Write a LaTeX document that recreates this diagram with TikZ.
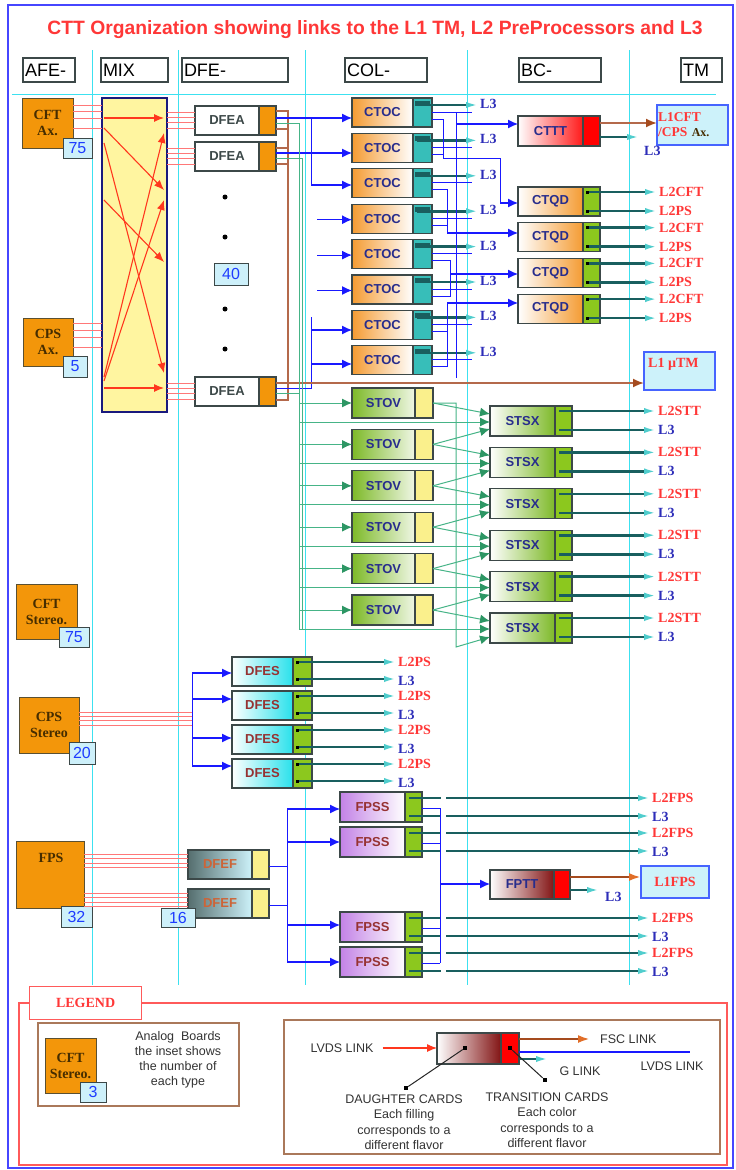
\documentclass[tikz,border=0pt]{standalone}
\usepackage{fontspec}
\setmainfont{Liberation Serif}
\setsansfont{Liberation Sans}
\usetikzlibrary{arrows.meta,calc}
\definecolor{cyanline}{RGB}{60,225,240}
\definecolor{frameblue}{RGB}{70,70,255}
\definecolor{boardorange}{RGB}{243,150,10}
\definecolor{boardtext}{RGB}{70,45,0}
\definecolor{boardline}{RGB}{90,80,50}
\definecolor{insetfill}{RGB}{205,240,250}
\definecolor{insettext}{RGB}{30,60,255}
\definecolor{cardborder}{RGB}{60,72,72}
\definecolor{navytext}{RGB}{40,45,140}
\definecolor{ctocorange}{RGB}{244,155,50}
\definecolor{tealpart}{RGB}{55,190,185}
\definecolor{partgreen}{RGB}{140,200,30}
\definecolor{partyellow}{RGB}{250,240,140}
\definecolor{stovgreen}{RGB}{125,185,40}
\definecolor{linegreen}{RGB}{70,180,135}
\definecolor{arrowgreen}{RGB}{45,150,100}
\definecolor{linkblue}{RGB}{25,25,255}
\definecolor{brownline}{RGB}{180,105,75}
\definecolor{brownhead}{RGB}{165,75,30}
\definecolor{labred}{RGB}{255,55,55}
\definecolor{labblue}{RGB}{45,45,185}
\definecolor{tealdark}{RGB}{25,95,95}
\definecolor{tealhead}{RGB}{80,205,205}
\definecolor{pinkline}{RGB}{255,120,120}
\definecolor{redarrow}{RGB}{255,55,30}
\definecolor{mixfill}{RGB}{255,245,160}
\definecolor{mixborder}{RGB}{25,25,125}
\definecolor{lboxfill}{RGB}{205,242,250}
\definecolor{lboxline}{RGB}{70,100,255}
\definecolor{fesred}{RGB}{150,50,50}
\definecolor{fescyan}{RGB}{40,225,235}
\definecolor{fefbrown}{RGB}{205,100,55}
\definecolor{fefdark}{RGB}{85,110,110}
\definecolor{fpsviolet}{RGB}{195,130,230}
\definecolor{maroonc}{RGB}{130,20,20}
\definecolor{legbrown}{RGB}{170,120,90}
\definecolor{legred}{RGB}{255,90,90}
\definecolor{fscorange}{RGB}{225,110,40}

\newcommand\mkcard[9]{%
  \node[cardbody,#7,minimum width=#4pt,minimum height=#6pt,anchor=north west] (#1) at (#2,#3) {#9};
  \node[cardbody,#8,minimum width=#5pt,minimum height=#6pt,anchor=north west] (#1-p) at (#1.north east) {};
}

\begin{document}
\begin{tikzpicture}[x=1pt,y=-1pt,
  cardbody/.style={draw=cardborder,line width=1.1pt,inner sep=0pt,outer sep=0pt,
     font=\sffamily\bfseries\fontsize{13}{13}\selectfont,text=navytext},
  board/.style={draw=boardline,line width=1pt,fill=boardorange,inner sep=0pt,outer sep=0pt,anchor=north west,
     font=\rmfamily\bfseries\fontsize{14}{16}\selectfont,text=boardtext,align=center},
  inset/.style={draw=cardborder,line width=1pt,fill=insetfill,inner sep=0pt,outer sep=0pt,anchor=north west,
     font=\sffamily\fontsize{16}{16}\selectfont,text=insettext},
  hdr/.style={draw=cardborder,line width=1.3pt,fill=white,minimum height=24pt,inner xsep=2pt,inner ysep=0pt,
     outer sep=0pt,font=\sffamily\fontsize{18}{18}\selectfont,align=left},
  cyanln/.style={draw=cyanline,line width=0.9pt},
  pinkln/.style={draw=pinkline,line width=0.6pt},
  redarr/.style={draw=redarrow,line width=1.1pt,-{Latex[length=10pt,width=8pt]}},
  blueln/.style={draw=linkblue,line width=1pt},
  bluearr/.style={draw=linkblue,line width=1.1pt,-{Latex[length=10pt,width=9pt]}},
  greenln/.style={draw=linegreen,line width=1pt},
  greenarr/.style={draw=linegreen,line width=1pt,-{Latex[length=10pt,width=9pt,color=arrowgreen]}},
  brownln/.style={draw=brownline,line width=1.4pt},
  brownarr/.style={draw=brownline,line width=1.8pt,-{Latex[length=11pt,width=9pt,color=brownhead]}},
  fscarr/.style={draw=brownhead,line width=2.4pt,-{Latex[length=12pt,width=8pt,color=fscorange]}},
  tealarr/.style={draw=tealdark,line width=2.6pt,-{Latex[length=14pt,width=6pt,color=tealhead]}},
  tealseg/.style={draw=tealdark,line width=2.8pt},
  redlab/.style={text=labred,font=\rmfamily\bfseries\fontsize{14}{14}\selectfont,anchor=west,inner sep=0pt},
  bluelab/.style={text=labblue,font=\rmfamily\bfseries\fontsize{14}{14}\selectfont,anchor=west,inner sep=0pt},
  legtxt/.style={font=\sffamily\fontsize{12.5}{15.5}\selectfont,text=black!80,align=center,inner sep=0pt},
  dotmark/.style={fill=black,inner sep=0pt,minimum size=4.5pt,outer sep=0pt},
  pin/.style={fill=black,inner sep=0pt,minimum size=3pt,outer sep=0pt},
  lbox/.style={draw=lboxline,line width=1.2pt,fill=lboxfill,anchor=north west,inner sep=0pt,outer sep=0pt},
]
\useasboundingbox (0,0) rectangle (736,1170);
\fill[white] (0,0) rectangle (736,1170);
\draw[frameblue,line width=1.6pt] (8,5) rectangle (733,1168);
\node[font=\sffamily\bfseries\fontsize{19.3}{19.3}\selectfont,text=labred] (title) at (375,30)
  {CTT Organization showing links to the L1 TM, L2 PreProcessors and L3};

% ---------- cyan grid
\foreach \x in {92,178,305,467,629} \draw[cyanln] (\x,50) -- (\x,985);
\draw[cyanln] (12,94) -- (716,94);

% ---------- header
\foreach \nm/\xa/\xb/\txt in {afe/23/75/AFE-, mix/101/168/MIX, dfe/182/288/DFE-, col/345/427/COL-, bc/519/601/BC-, tm/681/722/TM}{
  \pgfmathsetmacro\ww{\xb-\xa}
  \pgfmathsetmacro\tw{\xb-\xa-4}
  \node[hdr,minimum width=\ww pt,text width=\tw pt] (h\nm) at ({(\xa+\xb)/2},70) {\txt};
}

% ---------- analog boards
\node[board,minimum width=51pt,minimum height=50pt] (cftax) at (22,98) {CFT\\Ax.};
\node[inset,minimum width=29pt,minimum height=20pt] (cftaxn) at (63,138) {75};
\node[board,minimum width=50pt,minimum height=48pt] (cpsax) at (23,318) {CPS\\Ax.};
\node[inset,minimum width=24pt,minimum height=21pt] (cpsaxn) at (63,356) {5};
\node[board,minimum width=61pt,minimum height=55pt] (cftst) at (16,584) {CFT\\Stereo.};
\node[inset,minimum width=30pt,minimum height=20pt] (cftstn) at (59,627) {75};
\node[board,minimum width=60pt,minimum height=56pt] (cpsst) at (19,697) {CPS\\Stereo};
\node[inset,minimum width=26pt,minimum height=22pt] (cpsstn) at (69,742) {20};
\node[board,minimum width=68pt,minimum height=67pt] (fps) at (16,841) {};
\node[font=\rmfamily\bfseries\fontsize{14}{14}\selectfont,text=boardtext] (fpslab) at (51,858) {FPS};
\node[inset,minimum width=31pt,minimum height=21pt] (fpsn) at (61,906) {32};

% ---------- MIX
\node[draw=mixborder,line width=2.6pt,fill=mixfill,minimum width=65pt,minimum height=314pt,
      anchor=north west,inner sep=0pt,outer sep=0pt] (mix) at (102,98) {};
\foreach \y in {105,111,118,128} \draw[pinkln] (cftax.east |- 0,\y) -- (mix.west |- 0,\y);
\foreach \y in {323,330,337,347} \draw[pinkln] (cpsax.east |- 0,\y) -- (mix.west |- 0,\y);
\draw[redarr] (104,118) -- (164,118);
\draw[redarr] (104,128) -- (164,190);
\draw[redarr] (104,143) -- (164,373);
\draw[redarr] (104,200) -- (164,262);
\draw[redarr] (104,377) -- (164,133);
\draw[redarr] (104,381) -- (164,200);
\draw[redarr] (104,388) -- (164,388);

% ---------- DFEA
\mkcard{dfea1}{195}{106}{64}{17}{29}{fill=white,text=cardborder}{fill=boardorange}{DFEA}
\mkcard{dfea2}{195}{142}{64}{17}{29}{fill=white,text=cardborder}{fill=boardorange}{DFEA}
\mkcard{dfea3}{195}{377}{64}{17}{29}{fill=white,text=cardborder}{fill=boardorange}{DFEA}
\foreach \n in {1,2,3}{
  \foreach \d in {6,11,16,22} \draw[pinkln] ($(dfea\n.north west)+(-28,\d)$) -- ($(dfea\n.north west)+(0,\d)$);
}
\foreach \y [count=\k] in {197,237,309,349} \node[circle,fill=black,inner sep=0pt,minimum size=5pt] (dot\k) at (225,\y) {};
\node[inset,minimum width=34pt,minimum height=22pt] (n40) at (214,263) {40};

% ---------- CTOC
\foreach \i in {1,...,8}{
  \pgfmathsetmacro\t{98+35.4*(\i-1)}
  \mkcard{ctoc\i}{352}{\t}{61}{19}{29}{left color=ctocorange,right color=white}{fill=tealpart}{CTOC}
  \fill[tealdark] ($(ctoc\i-p.north west)+(2,3)$) rectangle ++(15,5);
  \node[bluelab] (c3l\i) at (480,\t+6) {L3};
  \draw[tealarr] ($(ctoc\i-p.north west)+(4,7)$) -- ($(c3l\i.west)+(0,1)$);
  \draw[blueln] ($(ctoc\i-p.north east)+(0,14)$) -- ($(c3l\i.west)+(-8,8)$);
}
\coordinate (cbusT) at (456,112);
\coordinate (cbusB) at (456,378);
\draw[blueln] (cbusT) -- (cbusB);

% ---------- CTTT, CTQD
\mkcard{cttt}{518}{116}{65}{17}{30}{left color=white,right color=red!90}{fill=red}{CTTT}
\draw[bluearr] (456,124) -- (cttt.west |- 0,124);
\node[lbox,minimum width=71pt,minimum height=40pt,text width=69pt,inner xsep=1pt,align=left,
      font=\rmfamily\bfseries\fontsize{13.5}{15}\selectfont] (l1cft) at (657,105)
      {\textcolor{labred}{L1CFT}\\\textcolor{labred}{/CPS} \textcolor{boardtext}{\fontsize{12}{12}\selectfont Ax.}};
\draw[brownarr] (cttt-p.east |- 0,123) -- (l1cft.west |- 0,123);
\node[bluelab] (cttl3) at (644,151) {L3};
\coordinate (ctte) at (641,137);
\draw[tealarr] (cttt-p.east |- 0,137) -- (ctte);

\foreach \i in {1,...,4}{
  \pgfmathsetmacro\t{187+35.7*(\i-1)}
  \mkcard{ctqd\i}{518}{\t}{65}{17}{29}{left color=white,right color=ctocorange}{fill=partgreen}{CTQD}
  \node[redlab] (qa\i) at (659,\t+5) {L2CFT};
  \node[redlab] (qb\i) at (659,\t+24) {L2PS};
  \draw[tealarr] ($(ctqd\i-p.north west)+(4,5)$) -- (qa\i.west);
  \draw[tealarr] ($(ctqd\i-p.north west)+(4,24)$) -- (qb\i.west);
  \node[pin] (qpa\i) at ($(ctqd\i-p.north west)+(4,5)$) {};
  \node[pin] (qpb\i) at ($(ctqd\i-p.north west)+(4,24)$) {};
}

% CTOC -> CTQD routing
\draw[blueln] (ctoc1-p.east |- 0,119) -- (443,119) -- (443,158) -- (500,158) -- (500,203);
\draw[blueln] (ctoc2-p.east |- 0,154.4) -- (443,154.4);
\draw[bluearr] (500,203) -- (ctqd1.west |- 0,203);
\draw[blueln] (ctoc3-p.east |- 0,189.8) -- (447,189.8) -- (447,233);
\draw[blueln] (ctoc4-p.east |- 0,225.2) -- (447,225.2);
\draw[bluearr] (447,233) -- (ctqd2.west |- 0,233);
\draw[blueln] (ctoc5-p.east |- 0,260.6) -- (450,260.6) -- (450,296) -- (ctoc6-p.east |- 0,296);
\draw[bluearr] (450,274) -- (ctqd3.west |- 0,274);
\draw[blueln] (ctoc7-p.east |- 0,331.4) -- (447,331.4);
\draw[blueln] (ctoc8-p.east |- 0,366.8) -- (447,366.8) -- (447,303);
\draw[bluearr] (447,303) -- (ctqd4.west |- 0,303);

% ---------- DFEA -> CTOC / bus lines
\draw[brownln] (dfea1-p.east |- 0,111) -- (288,111) -- (288,400) -- (dfea3-p.east |- 0,400);
\draw[brownln] (dfea1-p.east |- 0,129) -- (288,129);
\draw[brownln] (dfea2-p.east |- 0,148) -- (288,148);
\draw[brownln] (dfea2-p.east |- 0,164) -- (288,164);
\draw[bluearr] (dfea1-p.east |- 0,118) -- (ctoc1.west |- 0,118);
\draw[bluearr] (dfea2-p.east |- 0,153) -- (ctoc2.west |- 0,153);
\draw[blueln] (311,118) -- (311,185);
\draw[bluearr] (311,185) -- (ctoc3.west |- 0,185);
\foreach \i in {4,5,6} \draw[bluearr] ($(ctoc\i.west)+(-35,1)$) -- ($(ctoc\i.west)+(0,1)$);
\draw[blueln] (311,317) -- (311,388) -- (dfea3-p.east |- 0,388);
\draw[bluearr] (311,330) -- (ctoc7.west |- 0,330);
\draw[bluearr] (311,364) -- (ctoc8.west |- 0,364);

\node[lbox,minimum width=71pt,minimum height=38pt] (lmutm) at (644,352) {};
\node[redlab] (lmutmt) at (648,364) {L1 µTM};
\draw[brownarr] (dfea3-p.east |- 0,383) -- (lmutm.west |- 0,383);

\coordinate (gtop) at (299,123);
\coordinate (gbot) at (299,629);
\draw[greenln] (dfea1-p.east |- gtop) -- (gtop) -- (gbot);
\draw[greenln] (dfea2-p.east |- 0,158) -- (302,158) -- (302,629);
\draw[greenln] (dfea3-p.east |- 0,393) -- (299,393);

% ---------- STOV, STSX
\foreach \i in {1,...,6}{
  \pgfmathsetmacro\t{388+41.4*(\i-1)}
  \mkcard{stov\i}{352}{\t}{63}{18}{30}{left color=stovgreen,right color=stovgreen!12}{fill=partyellow}{STOV}
  \pgfmathsetmacro\s{406+41.4*(\i-1)}
  \mkcard{stsx\i}{490}{\s}{65}{17}{30}{left color=white,right color=stovgreen}{fill=partgreen}{STSX}
  \node[redlab] (sa\i) at (658,\s+5) {L2STT};
  \node[bluelab] (sb\i) at (658,\s+24) {L3};
  \draw[tealarr] ($(stsx\i-p.north west)+(4,5)$) -- (sa\i.west);
  \draw[tealarr] ($(stsx\i-p.north west)+(4,24)$) -- (sb\i.west);
}
\foreach \i in {1,...,6}{
  \draw[greenarr] (gtop |- stov\i.west) -- (stov\i.west);
  \draw[greenarr] ($(gtop |- stsx\i.west)+(0,1)$) -- ($(stsx\i.west)+(0,1)$);
  \draw[greenarr] (stov\i-p.east) -- ($(stsx\i.west)+(0,-7)$);
}
\foreach \i/\j in {2/1,3/2,4/3,5/4,6/5} \draw[greenarr] (stov\i-p.east) -- ($(stsx\j.west)+(0,8)$);
\coordinate (wrapA) at (456,403);
\coordinate (wrapB) at (456,647);
\draw[greenarr] (stov1-p.east) -- (wrapA) -- (wrapB) -- ($(stsx6.west)+(0,9)$);

% ---------- DFES
\foreach \i in {1,...,4}{
  \pgfmathsetmacro\t{657+34*(\i-1)}
  \mkcard{dfes\i}{232}{\t}{61}{19}{29}{left color=white,right color=fescyan,text=fesred}{fill=partgreen}{DFES}
  \node[redlab] (da\i) at (398,\t+5) {L2PS};
  \node[bluelab] (db\i) at (398,\t+24) {L3};
  \draw[tealarr] ($(dfes\i-p.north west)+(4,5)$) -- (da\i.west);
  \draw[tealarr] ($(dfes\i-p.north west)+(4,22)$) -- ($(db\i.west)+(0,-2)$);
  \node[pin] (dpa\i) at ($(dfes\i-p.north west)+(4,5)$) {};
  \node[pin] (dpb\i) at ($(dfes\i-p.north west)+(4,22)$) {};
}
\foreach \y in {712,716,720,725} \draw[pinkln] (cpsst.east |- 0,\y) -- (192,\y);
\draw[blueln] (192,673) -- (192,766);
\draw[bluearr] (192,673) -- (dfes1.west |- 0,673);
\draw[bluearr] (192,699) -- (dfes2.west |- 0,699);
\draw[bluearr] (192,738) -- (dfes3.west |- 0,738);
\draw[bluearr] (192,766) -- (dfes4.west |- 0,766);

% ---------- FPS chain
\mkcard{dfef1}{188}{850}{64}{17}{29}{left color=fefdark,right color=lboxfill,text=fefbrown}{fill=partyellow}{DFEF}
\mkcard{dfef2}{188}{889}{64}{17}{29}{left color=fefdark,right color=lboxfill,text=fefbrown}{fill=partyellow}{DFEF}
\node[inset,minimum width=34pt,minimum height=19pt] (n16) at (161,908) {16};
\foreach \y in {854,858,863,867,893,897,902,906} \draw[pinkln] (fps.east |- 0,\y) -- (dfef1.west |- 0,\y);
\draw[blueln] (dfef1-p.east |- 0,866) -- (287,866);
\draw[blueln] (dfef2-p.east |- 0,905) -- (287,905);
\draw[blueln] (287,809) -- (287,962);

\foreach \i/\t in {1/792,2/827,3/912,4/947}{
  \mkcard{fpss\i}{340}{\t}{65}{17}{30}{left color=fpsviolet,right color=white,text=fesred}{fill=partgreen}{FPSS}
  \node[redlab] (fa\i) at (652,\t+6) {L2FPS};
  \node[bluelab] (fb\i) at (652,\t+25) {L3};
  \draw[tealseg] ($(fpss\i-p.north west)+(4,6)$) -- ($(fpss\i-p.north east)+(19,6)$);
  \draw[tealseg] ($(fpss\i-p.north west)+(4,24)$) -- ($(fpss\i-p.north east)+(19,24)$);
  \draw[tealarr] ($(fpss\i-p.north east)+(24,6)$) -- (fa\i.west);
  \draw[tealarr] ($(fpss\i-p.north east)+(24,24)$) -- ($(fb\i.west)+(0,-1)$);
  \draw[blueln] ($(fpss\i-p.north east)+(0,16)$) -- (440,\t+16);
}
\draw[bluearr] (287,809) -- (fpss1.west |- 0,809);
\draw[bluearr] (287,842) -- (fpss2.west |- 0,842);
\draw[bluearr] (287,925) -- (fpss3.west |- 0,925);
\draw[bluearr] (287,962) -- (fpss4.west |- 0,962);
\draw[blueln] (440,808) -- (440,963);

\mkcard{fptt}{490}{870}{64}{16}{29}{left color=white,right color=maroonc}{fill=red}{FPTT}
\draw[bluearr] (440,884) -- (fptt.west |- 0,884);
\node[lbox,minimum width=68pt,minimum height=32pt,font=\rmfamily\bfseries\fontsize{14}{14}\selectfont,text=labred] (l1fps) at (641,866) {L1FPS};
\draw[fscarr] (fptt-p.east |- 0,877) -- (l1fps.west |- 0,877);
\coordinate (fpte) at (601,890);
\draw[tealarr] (fptt-p.east |- 0,890) -- (fpte);
\node[bluelab] (fptl3) at (605,897) {L3};

% ---------- legend
\draw[legred,line width=1.2pt] (19,1003) rectangle (727,1165);
\node[draw=legred,line width=1.2pt,fill=white,minimum width=112pt,minimum height=33pt,anchor=north west,
      font=\rmfamily\bfseries\fontsize{14}{14}\selectfont,text=labred,inner sep=0pt] (legtab) at (29,986) {LEGEND};
\draw[legbrown,line width=1.6pt] (38,1023) rectangle (239,1106);
\node[board,minimum width=51pt,minimum height=55pt] (legboard) at (45,1038) {CFT\\Stereo.};
\node[inset,minimum width=26pt,minimum height=20pt] (legn) at (80,1082) {3};
\node[legtxt,font=\sffamily\fontsize{12.5}{15}\selectfont] (legan) at (178,1060) {Analog\ \ Boards\\the inset shows\\the number of\\each type};
\draw[legbrown,line width=1.6pt] (284,1020) rectangle (720,1154);
\mkcard{legcard}{437}{1033}{64}{18}{31}{left color=white,right color=maroonc}{fill=red}{}
\node[legtxt] (lvds1) at (342,1048) {LVDS LINK};
\draw[redarr] ($(lvds1.east)+(9,0)$) -- (legcard.west |- 0,1048);
\node[legtxt,anchor=west] (fsc) at (600,1039) {FSC LINK};
\draw[fscarr] (legcard-p.east |- 0,1039) -- ($(fsc.west)+(-10,0)$);
\coordinate (lvdsend) at (690,1052);
\draw[linkblue,line width=1.6pt] (legcard-p.east |- 0,1052) -- (lvdsend);
\node[legtxt] (lvds2) at (672,1066) {LVDS LINK};
\coordinate (glend) at (550,1059);
\draw[tealarr] (legcard-p.east |- 0,1059) -- (glend);
\node[legtxt] (glink) at (580,1071) {G LINK};
\node[dotmark] (dcd) at (465,1048) {};
\node[dotmark] (dtc) at (510,1048) {};
\node[dotmark] (dcd2) at (406,1088) {};
\node[dotmark] (dtc2) at (545,1080) {};
\draw[black!85,line width=1pt] (dcd) -- (dcd2);
\draw[black!85,line width=1pt] (dtc) -- (dtc2);
\node[legtxt] (dcdtxt) at (404,1122) {DAUGHTER CARDS\\Each filling\\corresponds to a\\different flavor};
\node[legtxt] (dtctxt) at (547,1120) {TRANSITION CARDS\\Each color\\corresponds to a\\different flavor};
\end{tikzpicture}
\end{document}
